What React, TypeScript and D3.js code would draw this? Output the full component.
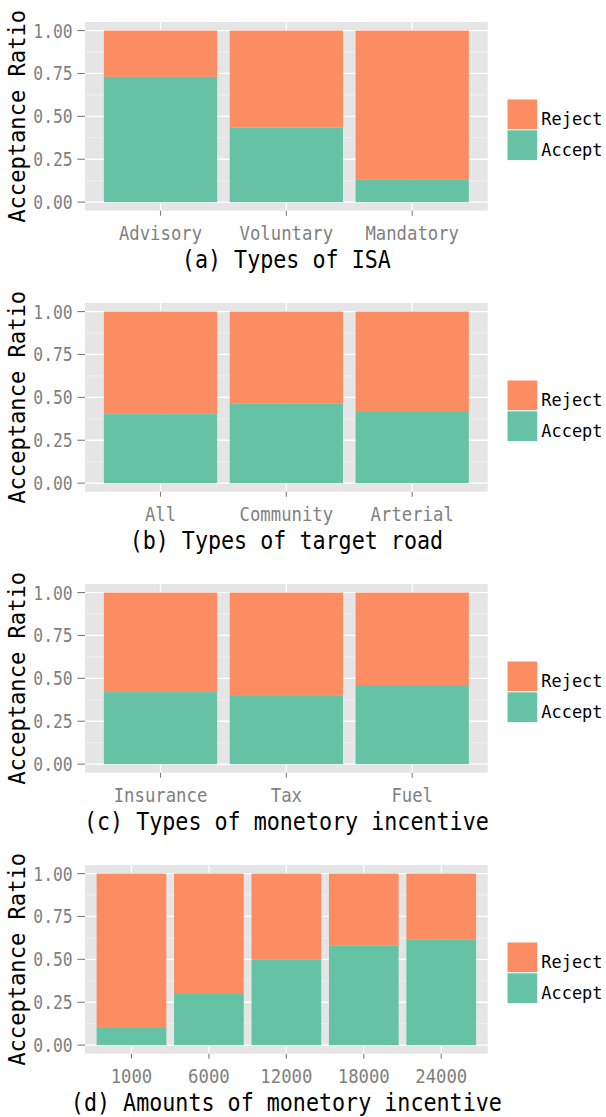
import React from "react";
import * as d3 from "d3";

// ---- data ----
const isaCategories = ["Advisory", "Voluntary", "Mandatory"];
const isaAccept = [0.73, 0.435, 0.13];

const roadCategories = ["All", "Community", "Arterial"];
const roadAccept = [0.402, 0.463, 0.42];

const incentiveCategories = ["Insurance", "Tax", "Fuel"];
const incentiveAccept = [0.42, 0.402, 0.461];

const amountCategories = ["1000", "6000", "12000", "18000", "24000"];
const amountAccept = [0.1, 0.298, 0.497, 0.579, 0.614];

const panelTitles = [
  "(a) Types of ISA",
  "(b) Types of target road",
  "(c) Types of monetory incentive",
  "(d) Amounts of monetory incentive",
];

const yTicks = [0, 0.25, 0.5, 0.75, 1];
const yMinor = [0.125, 0.375, 0.625, 0.875];
const yTickLabels = ["0.00", "0.25", "0.50", "0.75", "1.00"];
const legendLabels = ["Reject", "Accept"];
const yTitle = "Acceptance Ratio";

const panels = [
  { cats: isaCategories, accept: isaAccept, title: panelTitles[0] },
  { cats: roadCategories, accept: roadAccept, title: panelTitles[1] },
  { cats: incentiveCategories, accept: incentiveAccept, title: panelTitles[2] },
  { cats: amountCategories, accept: amountAccept, title: panelTitles[3] },
];

// ---- style ----
const ACCEPT = "#66C2A5";
const REJECT = "#FC8D62";
const PANEL_BG = "#E5E5E5";
const MINOR = "#F2F2F2";
const GREY50 = "#7F7F7F";
const MONO = "'DejaVu Sans Mono', 'Liberation Mono', monospace";

const W = 606;
const H = 1117;
const BLOCK_H = 281;
const PANEL_TOP = 22;
const PANEL_H = 188.7;
const PANEL_LEFT = 85;
const PANEL_RIGHT = 487.7;

function Panel({ cats, accept, title, offset }) {
  const top = offset + PANEL_TOP;
  const bottom = top + PANEL_H;
  const x = d3
    .scaleBand()
    .domain(cats)
    .range([PANEL_LEFT, PANEL_RIGHT])
    .paddingInner(0.1)
    .paddingOuter(0.15);
  const y = d3.scaleLinear().domain([-0.05, 1.05]).range([bottom, top]);
  const bw = x.bandwidth();
  const cx = (c) => x(c) + bw / 2;
  const midX = (PANEL_LEFT + PANEL_RIGHT) / 2;
  const midY = (top + bottom) / 2;
  const keyX = 507;
  const keyY = offset + 99;
  const keyS = 30.8;

  return (
    <g>
      <rect x={PANEL_LEFT} y={top} width={PANEL_RIGHT - PANEL_LEFT} height={PANEL_H} fill={PANEL_BG} />
      {yMinor.map((v) => (
        <line key={"mn" + v} x1={PANEL_LEFT} x2={PANEL_RIGHT} y1={y(v)} y2={y(v)} stroke={MINOR} strokeWidth={0.9} />
      ))}
      {yTicks.map((v) => (
        <line key={"mj" + v} x1={PANEL_LEFT} x2={PANEL_RIGHT} y1={y(v)} y2={y(v)} stroke="#FFFFFF" strokeWidth={1.3} />
      ))}
      {cats.map((c) => (
        <line key={"vx" + c} x1={cx(c)} x2={cx(c)} y1={top} y2={bottom} stroke="#FFFFFF" strokeWidth={1.3} />
      ))}
      {cats.map((c, i) => (
        <g key={"bar" + c}>
          <rect x={x(c)} y={y(1)} width={bw} height={y(accept[i]) - y(1)} fill={REJECT} />
          <rect x={x(c)} y={y(accept[i])} width={bw} height={y(0) - y(accept[i])} fill={ACCEPT} />
        </g>
      ))}
      {/* y axis ticks */}
      {yTicks.map((v, i) => (
        <g key={"yt" + v}>
          <line x1={PANEL_LEFT - 7.7} x2={PANEL_LEFT} y1={y(v)} y2={y(v)} stroke={GREY50} strokeWidth={1.1} />
          <text
            x={72.7}
            y={y(v)}
            dy="0.36em"
            textAnchor="end"
            fontFamily={MONO}
            fontSize={19.5}
            fill={GREY50}
            textLength={39.4}
            lengthAdjust="spacingAndGlyphs"
          >
            {yTickLabels[i]}
          </text>
        </g>
      ))}
      {/* x axis ticks */}
      {cats.map((c) => (
        <g key={"xt" + c}>
          <line x1={cx(c)} x2={cx(c)} y1={bottom} y2={bottom + 5} stroke={GREY50} strokeWidth={1.1} />
          <text
            x={cx(c)}
            y={offset + 239.5}
            textAnchor="middle"
            fontFamily={MONO}
            fontSize={20}
            fill={GREY50}
            textLength={c.length * 10.4}
            lengthAdjust="spacingAndGlyphs"
          >
            {c}
          </text>
        </g>
      ))}
      {/* x title */}
      <text
        x={midX}
        y={offset + 268}
        textAnchor="middle"
        fontFamily={MONO}
        fontSize={25}
        fill="#000000"
        textLength={title.length * 13.06}
        lengthAdjust="spacingAndGlyphs"
      >
        {title}
      </text>
      {/* y title */}
      <text
        transform={`translate(24.5,${midY}) rotate(-90)`}
        textAnchor="middle"
        fontFamily={MONO}
        fontSize={22.5}
        fill="#000000"
        textLength={yTitle.length * 13.3}
        lengthAdjust="spacingAndGlyphs"
      >
        {yTitle}
      </text>
      {/* legend */}
      {legendLabels.map((lab, i) => (
        <g key={"lg" + lab}>
          <rect
            x={keyX}
            y={keyY + i * keyS}
            width={keyS}
            height={keyS}
            fill={lab === "Reject" ? REJECT : ACCEPT}
            stroke="#FFFFFF"
            strokeWidth={1}
          />
          <text
            x={541.3}
            y={keyY + i * keyS + keyS / 2 + 10.5}
            fontFamily={MONO}
            fontSize={17.5}
            fill="#000000"
            textLength={lab.length * 10.2}
            lengthAdjust="spacingAndGlyphs"
          >
            {lab}
          </text>
        </g>
      ))}
    </g>
  );
}

export default function App() {
  return (
    <svg
      width={W}
      height={H}
      style={{ position: "absolute", left: 0, top: 0, background: "#FFFFFF" }}
    >
      <rect x={0} y={0} width={W} height={H} fill="#FFFFFF" />
      {panels.map((p, i) => (
        <Panel key={i} cats={p.cats} accept={p.accept} title={p.title} offset={i * BLOCK_H} />
      ))}
    </svg>
  );
}
